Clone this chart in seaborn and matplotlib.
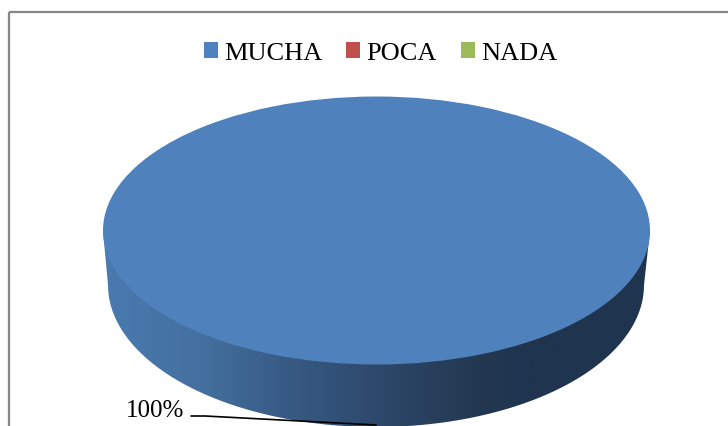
import numpy as np
import matplotlib
matplotlib.use("Agg")
import matplotlib.pyplot as plt
from matplotlib.colors import LinearSegmentedColormap
from matplotlib.patches import Patch, PathPatch, Rectangle
from matplotlib.path import Path
import seaborn as sns

categories = ["MUCHA", "POCA", "NADA"]
shares = [100, 0, 0]
slice_colors = ["#4F81BD", "#C0504D", "#9BBB59"]

W, H = 728, 427
SERIF = "Liberation Serif"

sns.set_theme(style="white")
plt.rcParams["font.family"] = SERIF

fig = plt.figure(figsize=(W / 100, H / 100), dpi=100)
base = fig.add_axes([0, 0, 1, 1])
base.set_xlim(0, W)
base.set_ylim(H, 0)
base.axis("off")

# outer chart frame runs off the right and bottom of the picture
base.add_patch(Rectangle((8.5, 12.5), W + 20, H + 20, fill=False, ec="#868686", lw=1.6))

# side wall of the 3D pie: gradient clipped to the extruded outline
top_c, top_rx, top_ry = (376.5, 231.5), 273.5, 134
bot_c, bot_rx, bot_ry = (376, 286), 268, 142
t = np.linspace(np.pi, 0, 200)
outline = np.column_stack([
    bot_c[0] + bot_rx * np.cos(t),
    bot_c[1] + bot_ry * np.sin(t),
])
outline = np.vstack([[top_c[0] - top_rx, top_c[1]], outline,
                     [top_c[0] + top_rx, top_c[1]], [top_c[0] + top_rx, top_c[1]]])
codes = [Path.MOVETO] + [Path.LINETO] * (len(outline) - 2) + [Path.CLOSEPOLY]
wall = PathPatch(Path(outline, codes), fc="none", ec="none")
base.add_patch(wall)

wall_cmap = LinearSegmentedColormap.from_list("wall", [
    (0.0, "#4A7AB0"), (0.18, "#44709F"), (0.34, "#375A84"),
    (0.54, "#2C4566"), (0.69, "#233850"), (0.78, "#1F344E"), (1.0, "#1F344E"),
])
img = base.imshow(np.linspace(0, 1, 300)[None, :], cmap=wall_cmap, aspect="auto",
                  extent=(100, 652, H, 225), zorder=1)
img.set_clip_path(wall)
base.set_xlim(0, W)
base.set_ylim(H, 0)

# top face is the pie itself, squashed by a non-equal axes
ax = fig.add_axes([(top_c[0] - top_rx) / W, 1 - (top_c[1] + top_ry) / H,
                   2 * top_rx / W, 2 * top_ry / H])
ax.pie(shares, colors=slice_colors, startangle=90, radius=1, wedgeprops={"linewidth": 0})
ax.set_aspect("auto")
ax.set_xlim(-1, 1)
ax.set_ylim(-1, 1)
ax.patch.set_alpha(0)

# data label with its leader line
base.text(155, 411, f"{shares[0]}%", fontsize=18, family=SERIF, color="black",
          ha="center", va="center", zorder=5)
base.plot([191, 205, 376], [417, 417, 426], color="black", lw=1.2, zorder=5)

handles = [Patch(fc=c, ec="none") for c in slice_colors]
base.legend(handles, categories, ncols=3, loc="upper left",
            bbox_to_anchor=(204 / W, 1 - 43 / H), frameon=False, fontsize=19,
            handlelength=0.53, handleheight=0.53, handletextpad=0.23,
            columnspacing=0.91, borderpad=0, borderaxespad=0, labelcolor="black")

fig.savefig("out.png", dpi=100)
